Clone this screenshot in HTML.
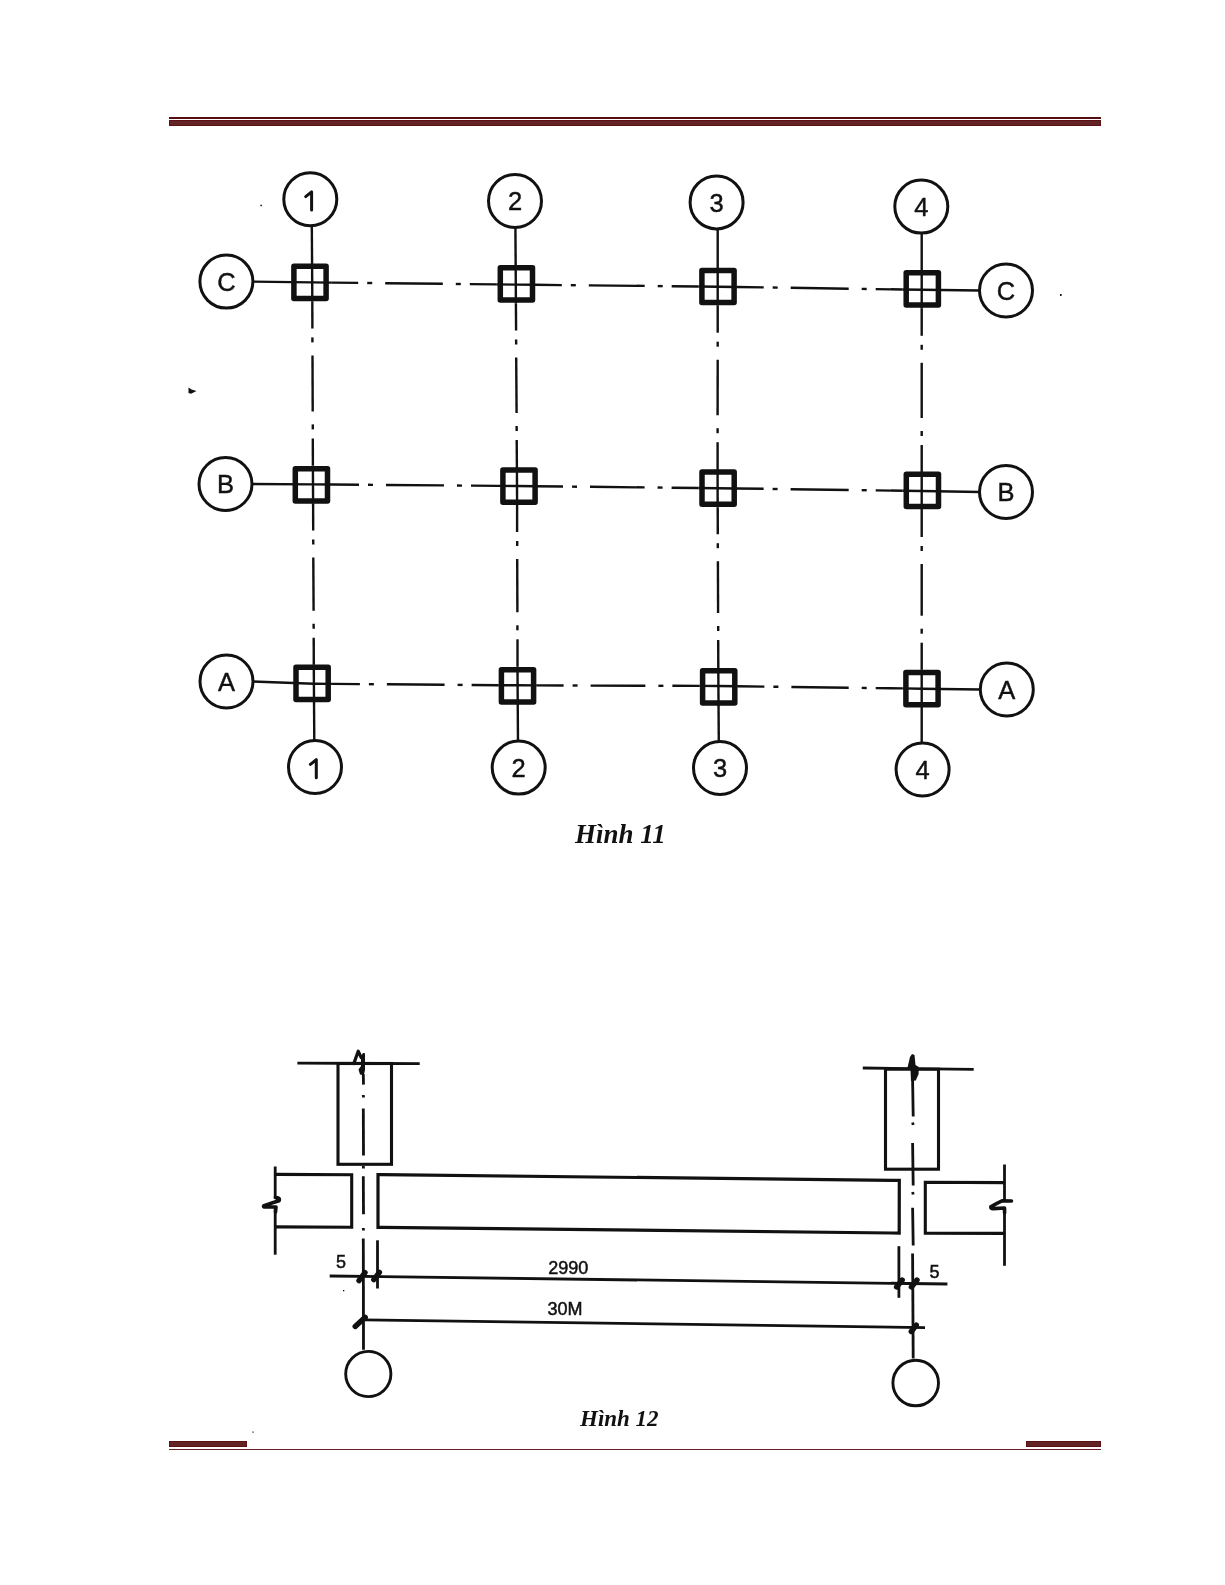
<!DOCTYPE html>
<html><head><meta charset="utf-8">
<style>
html,body{margin:0;padding:0;background:#fff;}
body{width:1225px;height:1585px;position:relative;overflow:hidden;}
svg{position:absolute;left:0;top:0;will-change:transform;}
.lb{font-family:"Liberation Sans",sans-serif;text-anchor:middle;fill:#111;stroke:#111;stroke-width:0.45px;}
.dm{font-family:"Liberation Sans",sans-serif;font-size:18px;fill:#111;stroke:#111;stroke-width:0.5px;}
.cap{font-family:"Liberation Serif",serif;font-weight:bold;font-style:italic;fill:#111;stroke:none;}
</style></head>
<body>
<svg width="1225" height="1585" viewBox="0 0 1225 1585">
<rect x="169" y="117" width="932" height="2" fill="#550d0f"/>
<rect x="169.5" y="120.5" width="931" height="5" fill="#632324" stroke="#5a1113" stroke-width="1"/>
<rect x="169.5" y="1441.5" width="77" height="5" fill="#632324" stroke="#5a1113" stroke-width="1"/>
<rect x="1026.5" y="1441.5" width="74" height="5" fill="#632324" stroke="#5a1113" stroke-width="1"/>
<rect x="169" y="1449" width="932" height="1" fill="#661f22"/>
<g stroke="#111" fill="#111">
<line x1="312.2" y1="282.4" x2="331.2" y2="282.6" stroke-width="2.4" stroke-linecap="butt"/>
<line x1="496.8" y1="284.4" x2="515.8" y2="284.6" stroke-width="2.4" stroke-linecap="butt"/>
<line x1="331.2" y1="282.6" x2="358.2" y2="282.9" stroke-width="2.4" stroke-linecap="butt"/>
<line x1="367.2" y1="283.0" x2="372.2" y2="283.0" stroke-width="2.4" stroke-linecap="butt"/>
<line x1="385.2" y1="283.2" x2="442.8" y2="283.8" stroke-width="2.4" stroke-linecap="butt"/>
<line x1="455.8" y1="284.0" x2="460.8" y2="284.0" stroke-width="2.4" stroke-linecap="butt"/>
<line x1="469.8" y1="284.1" x2="496.8" y2="284.4" stroke-width="2.4" stroke-linecap="butt"/>
<line x1="515.8" y1="284.6" x2="534.8" y2="284.8" stroke-width="2.4" stroke-linecap="butt"/>
<line x1="698.7" y1="286.5" x2="717.7" y2="286.7" stroke-width="2.4" stroke-linecap="butt"/>
<line x1="534.8" y1="284.8" x2="561.8" y2="285.1" stroke-width="2.4" stroke-linecap="butt"/>
<line x1="570.8" y1="285.2" x2="575.8" y2="285.2" stroke-width="2.4" stroke-linecap="butt"/>
<line x1="588.8" y1="285.4" x2="644.7" y2="285.9" stroke-width="2.4" stroke-linecap="butt"/>
<line x1="657.7" y1="286.1" x2="662.7" y2="286.1" stroke-width="2.4" stroke-linecap="butt"/>
<line x1="671.7" y1="286.2" x2="698.7" y2="286.5" stroke-width="2.4" stroke-linecap="butt"/>
<line x1="717.7" y1="286.7" x2="736.7" y2="287.0" stroke-width="2.4" stroke-linecap="butt"/>
<line x1="902.7" y1="289.5" x2="921.7" y2="289.8" stroke-width="2.4" stroke-linecap="butt"/>
<line x1="736.7" y1="287.0" x2="763.7" y2="287.4" stroke-width="2.4" stroke-linecap="butt"/>
<line x1="772.7" y1="287.5" x2="777.7" y2="287.6" stroke-width="2.4" stroke-linecap="butt"/>
<line x1="790.7" y1="287.8" x2="848.7" y2="288.7" stroke-width="2.4" stroke-linecap="butt"/>
<line x1="861.7" y1="288.9" x2="866.7" y2="289.0" stroke-width="2.4" stroke-linecap="butt"/>
<line x1="875.7" y1="289.1" x2="902.7" y2="289.5" stroke-width="2.4" stroke-linecap="butt"/>
<line x1="252.4" y1="281.6" x2="312.2" y2="282.4" stroke-width="2.4" stroke-linecap="butt"/>
<line x1="921.7" y1="289.8" x2="980.0" y2="290.5" stroke-width="2.4" stroke-linecap="butt"/>
<line x1="313.0" y1="484.4" x2="332.0" y2="484.5" stroke-width="2.4" stroke-linecap="butt"/>
<line x1="498.0" y1="485.9" x2="517.0" y2="486.0" stroke-width="2.4" stroke-linecap="butt"/>
<line x1="332.0" y1="484.5" x2="359.0" y2="484.8" stroke-width="2.4" stroke-linecap="butt"/>
<line x1="368.0" y1="484.8" x2="373.0" y2="484.9" stroke-width="2.4" stroke-linecap="butt"/>
<line x1="386.0" y1="485.0" x2="444.0" y2="485.4" stroke-width="2.4" stroke-linecap="butt"/>
<line x1="457.0" y1="485.5" x2="462.0" y2="485.6" stroke-width="2.4" stroke-linecap="butt"/>
<line x1="471.0" y1="485.6" x2="498.0" y2="485.9" stroke-width="2.4" stroke-linecap="butt"/>
<line x1="517.0" y1="486.0" x2="536.0" y2="486.2" stroke-width="2.4" stroke-linecap="butt"/>
<line x1="698.6" y1="488.0" x2="717.6" y2="488.2" stroke-width="2.4" stroke-linecap="butt"/>
<line x1="536.0" y1="486.2" x2="563.0" y2="486.5" stroke-width="2.4" stroke-linecap="butt"/>
<line x1="572.0" y1="486.6" x2="577.0" y2="486.7" stroke-width="2.4" stroke-linecap="butt"/>
<line x1="590.0" y1="486.8" x2="644.6" y2="487.4" stroke-width="2.4" stroke-linecap="butt"/>
<line x1="657.6" y1="487.5" x2="662.6" y2="487.6" stroke-width="2.4" stroke-linecap="butt"/>
<line x1="671.6" y1="487.7" x2="698.6" y2="488.0" stroke-width="2.4" stroke-linecap="butt"/>
<line x1="717.6" y1="488.2" x2="736.6" y2="488.5" stroke-width="2.4" stroke-linecap="butt"/>
<line x1="902.7" y1="490.7" x2="921.7" y2="491.0" stroke-width="2.4" stroke-linecap="butt"/>
<line x1="736.6" y1="488.5" x2="763.6" y2="488.8" stroke-width="2.4" stroke-linecap="butt"/>
<line x1="772.6" y1="489.0" x2="777.6" y2="489.0" stroke-width="2.4" stroke-linecap="butt"/>
<line x1="790.6" y1="489.2" x2="848.7" y2="490.0" stroke-width="2.4" stroke-linecap="butt"/>
<line x1="861.7" y1="490.2" x2="866.7" y2="490.2" stroke-width="2.4" stroke-linecap="butt"/>
<line x1="875.7" y1="490.4" x2="902.7" y2="490.7" stroke-width="2.4" stroke-linecap="butt"/>
<line x1="251.5" y1="484.0" x2="313.0" y2="484.4" stroke-width="2.4" stroke-linecap="butt"/>
<line x1="921.7" y1="491.0" x2="980.0" y2="492.0" stroke-width="2.4" stroke-linecap="butt"/>
<line x1="313.9" y1="683.8" x2="332.9" y2="683.9" stroke-width="2.4" stroke-linecap="butt"/>
<line x1="498.6" y1="685.2" x2="517.6" y2="685.3" stroke-width="2.4" stroke-linecap="butt"/>
<line x1="332.9" y1="683.9" x2="359.9" y2="684.1" stroke-width="2.4" stroke-linecap="butt"/>
<line x1="368.9" y1="684.2" x2="373.9" y2="684.2" stroke-width="2.4" stroke-linecap="butt"/>
<line x1="386.9" y1="684.3" x2="444.6" y2="684.8" stroke-width="2.4" stroke-linecap="butt"/>
<line x1="457.6" y1="684.9" x2="462.6" y2="684.9" stroke-width="2.4" stroke-linecap="butt"/>
<line x1="471.6" y1="685.0" x2="498.6" y2="685.2" stroke-width="2.4" stroke-linecap="butt"/>
<line x1="517.6" y1="685.3" x2="536.6" y2="685.4" stroke-width="2.4" stroke-linecap="butt"/>
<line x1="699.4" y1="685.9" x2="718.4" y2="686.0" stroke-width="2.4" stroke-linecap="butt"/>
<line x1="536.6" y1="685.4" x2="563.6" y2="685.5" stroke-width="2.4" stroke-linecap="butt"/>
<line x1="572.6" y1="685.5" x2="577.6" y2="685.5" stroke-width="2.4" stroke-linecap="butt"/>
<line x1="590.6" y1="685.6" x2="645.4" y2="685.7" stroke-width="2.4" stroke-linecap="butt"/>
<line x1="658.4" y1="685.8" x2="663.4" y2="685.8" stroke-width="2.4" stroke-linecap="butt"/>
<line x1="672.4" y1="685.8" x2="699.4" y2="685.9" stroke-width="2.4" stroke-linecap="butt"/>
<line x1="718.4" y1="686.0" x2="737.4" y2="686.3" stroke-width="2.4" stroke-linecap="butt"/>
<line x1="902.7" y1="688.4" x2="921.7" y2="688.7" stroke-width="2.4" stroke-linecap="butt"/>
<line x1="737.4" y1="686.3" x2="764.4" y2="686.6" stroke-width="2.4" stroke-linecap="butt"/>
<line x1="773.4" y1="686.7" x2="778.4" y2="686.8" stroke-width="2.4" stroke-linecap="butt"/>
<line x1="791.4" y1="687.0" x2="848.7" y2="687.7" stroke-width="2.4" stroke-linecap="butt"/>
<line x1="861.7" y1="687.9" x2="866.7" y2="688.0" stroke-width="2.4" stroke-linecap="butt"/>
<line x1="875.7" y1="688.1" x2="902.7" y2="688.4" stroke-width="2.4" stroke-linecap="butt"/>
<line x1="252.5" y1="681.5" x2="313.9" y2="683.8" stroke-width="2.4" stroke-linecap="butt"/>
<line x1="921.7" y1="688.7" x2="980.8" y2="689.5" stroke-width="2.4" stroke-linecap="butt"/>
<line x1="312.2" y1="282.4" x2="312.3" y2="301.4" stroke-width="2.4" stroke-linecap="butt"/>
<line x1="312.9" y1="465.4" x2="313.0" y2="484.4" stroke-width="2.4" stroke-linecap="butt"/>
<line x1="312.3" y1="301.4" x2="312.4" y2="328.4" stroke-width="2.4" stroke-linecap="butt"/>
<line x1="312.4" y1="337.4" x2="312.4" y2="342.4" stroke-width="2.4" stroke-linecap="butt"/>
<line x1="312.5" y1="355.4" x2="312.7" y2="411.4" stroke-width="2.4" stroke-linecap="butt"/>
<line x1="312.8" y1="424.4" x2="312.8" y2="429.4" stroke-width="2.4" stroke-linecap="butt"/>
<line x1="312.8" y1="438.4" x2="312.9" y2="465.4" stroke-width="2.4" stroke-linecap="butt"/>
<line x1="313.0" y1="484.4" x2="313.1" y2="503.4" stroke-width="2.4" stroke-linecap="butt"/>
<line x1="313.8" y1="664.8" x2="313.9" y2="683.8" stroke-width="2.4" stroke-linecap="butt"/>
<line x1="313.1" y1="503.4" x2="313.2" y2="530.4" stroke-width="2.4" stroke-linecap="butt"/>
<line x1="313.2" y1="539.4" x2="313.3" y2="544.4" stroke-width="2.4" stroke-linecap="butt"/>
<line x1="313.3" y1="557.4" x2="313.6" y2="610.8" stroke-width="2.4" stroke-linecap="butt"/>
<line x1="313.6" y1="623.8" x2="313.7" y2="628.8" stroke-width="2.4" stroke-linecap="butt"/>
<line x1="313.7" y1="637.8" x2="313.8" y2="664.8" stroke-width="2.4" stroke-linecap="butt"/>
<line x1="311.8" y1="224.2" x2="312.2" y2="282.4" stroke-width="2.4" stroke-linecap="butt"/>
<line x1="313.9" y1="683.8" x2="314.3" y2="742.0" stroke-width="2.4" stroke-linecap="butt"/>
<line x1="515.8" y1="284.6" x2="515.9" y2="303.6" stroke-width="2.4" stroke-linecap="butt"/>
<line x1="516.9" y1="467.0" x2="517.0" y2="486.0" stroke-width="2.4" stroke-linecap="butt"/>
<line x1="515.9" y1="303.6" x2="516.1" y2="330.6" stroke-width="2.4" stroke-linecap="butt"/>
<line x1="516.1" y1="339.6" x2="516.2" y2="344.6" stroke-width="2.4" stroke-linecap="butt"/>
<line x1="516.2" y1="357.6" x2="516.6" y2="413.0" stroke-width="2.4" stroke-linecap="butt"/>
<line x1="516.6" y1="426.0" x2="516.7" y2="431.0" stroke-width="2.4" stroke-linecap="butt"/>
<line x1="516.7" y1="440.0" x2="516.9" y2="467.0" stroke-width="2.4" stroke-linecap="butt"/>
<line x1="517.0" y1="486.0" x2="517.1" y2="505.0" stroke-width="2.4" stroke-linecap="butt"/>
<line x1="517.5" y1="666.3" x2="517.6" y2="685.3" stroke-width="2.4" stroke-linecap="butt"/>
<line x1="517.1" y1="505.0" x2="517.1" y2="532.0" stroke-width="2.4" stroke-linecap="butt"/>
<line x1="517.2" y1="541.0" x2="517.2" y2="546.0" stroke-width="2.4" stroke-linecap="butt"/>
<line x1="517.2" y1="559.0" x2="517.4" y2="612.3" stroke-width="2.4" stroke-linecap="butt"/>
<line x1="517.4" y1="625.3" x2="517.4" y2="630.3" stroke-width="2.4" stroke-linecap="butt"/>
<line x1="517.5" y1="639.3" x2="517.5" y2="666.3" stroke-width="2.4" stroke-linecap="butt"/>
<line x1="515.4" y1="226.0" x2="515.8" y2="284.6" stroke-width="2.4" stroke-linecap="butt"/>
<line x1="517.6" y1="685.3" x2="518.0" y2="742.6" stroke-width="2.4" stroke-linecap="butt"/>
<line x1="717.7" y1="286.7" x2="717.7" y2="305.7" stroke-width="2.4" stroke-linecap="butt"/>
<line x1="717.6" y1="469.2" x2="717.6" y2="488.2" stroke-width="2.4" stroke-linecap="butt"/>
<line x1="717.7" y1="305.7" x2="717.7" y2="332.7" stroke-width="2.4" stroke-linecap="butt"/>
<line x1="717.7" y1="341.7" x2="717.7" y2="346.7" stroke-width="2.4" stroke-linecap="butt"/>
<line x1="717.7" y1="359.7" x2="717.6" y2="415.2" stroke-width="2.4" stroke-linecap="butt"/>
<line x1="717.6" y1="428.2" x2="717.6" y2="433.2" stroke-width="2.4" stroke-linecap="butt"/>
<line x1="717.6" y1="442.2" x2="717.6" y2="469.2" stroke-width="2.4" stroke-linecap="butt"/>
<line x1="717.6" y1="488.2" x2="717.7" y2="507.2" stroke-width="2.4" stroke-linecap="butt"/>
<line x1="718.3" y1="667.0" x2="718.4" y2="686.0" stroke-width="2.4" stroke-linecap="butt"/>
<line x1="717.7" y1="507.2" x2="717.8" y2="534.2" stroke-width="2.4" stroke-linecap="butt"/>
<line x1="717.8" y1="543.2" x2="717.8" y2="548.2" stroke-width="2.4" stroke-linecap="butt"/>
<line x1="717.9" y1="561.2" x2="718.1" y2="613.0" stroke-width="2.4" stroke-linecap="butt"/>
<line x1="718.2" y1="626.0" x2="718.2" y2="631.0" stroke-width="2.4" stroke-linecap="butt"/>
<line x1="718.2" y1="640.0" x2="718.3" y2="667.0" stroke-width="2.4" stroke-linecap="butt"/>
<line x1="717.7" y1="227.4" x2="717.7" y2="286.7" stroke-width="2.4" stroke-linecap="butt"/>
<line x1="718.4" y1="686.0" x2="718.8" y2="743.0" stroke-width="2.4" stroke-linecap="butt"/>
<line x1="921.7" y1="289.8" x2="921.7" y2="308.8" stroke-width="2.4" stroke-linecap="butt"/>
<line x1="921.7" y1="472.0" x2="921.7" y2="491.0" stroke-width="2.4" stroke-linecap="butt"/>
<line x1="921.7" y1="308.8" x2="921.7" y2="335.8" stroke-width="2.4" stroke-linecap="butt"/>
<line x1="921.7" y1="344.8" x2="921.7" y2="349.8" stroke-width="2.4" stroke-linecap="butt"/>
<line x1="921.7" y1="362.8" x2="921.7" y2="418.0" stroke-width="2.4" stroke-linecap="butt"/>
<line x1="921.7" y1="431.0" x2="921.7" y2="436.0" stroke-width="2.4" stroke-linecap="butt"/>
<line x1="921.7" y1="445.0" x2="921.7" y2="472.0" stroke-width="2.4" stroke-linecap="butt"/>
<line x1="921.7" y1="491.0" x2="921.7" y2="510.0" stroke-width="2.4" stroke-linecap="butt"/>
<line x1="921.7" y1="669.7" x2="921.7" y2="688.7" stroke-width="2.4" stroke-linecap="butt"/>
<line x1="921.7" y1="510.0" x2="921.7" y2="537.0" stroke-width="2.4" stroke-linecap="butt"/>
<line x1="921.7" y1="546.0" x2="921.7" y2="551.0" stroke-width="2.4" stroke-linecap="butt"/>
<line x1="921.7" y1="564.0" x2="921.7" y2="615.7" stroke-width="2.4" stroke-linecap="butt"/>
<line x1="921.7" y1="628.7" x2="921.7" y2="633.7" stroke-width="2.4" stroke-linecap="butt"/>
<line x1="921.7" y1="642.7" x2="921.7" y2="669.7" stroke-width="2.4" stroke-linecap="butt"/>
<line x1="921.7" y1="231.6" x2="921.7" y2="289.8" stroke-width="2.4" stroke-linecap="butt"/>
<line x1="921.7" y1="688.7" x2="921.7" y2="744.5" stroke-width="2.4" stroke-linecap="butt"/>
<rect x="293.9" y="266.2" width="32.2" height="32.2" fill="none" stroke-width="5.5" stroke-linejoin="round"/>
<rect x="500.3" y="267.7" width="32.2" height="32.2" fill="none" stroke-width="5.5" stroke-linejoin="round"/>
<rect x="701.9" y="270.4" width="32.2" height="32.2" fill="none" stroke-width="5.5" stroke-linejoin="round"/>
<rect x="906.2" y="272.7" width="32.2" height="32.2" fill="none" stroke-width="5.5" stroke-linejoin="round"/>
<rect x="295.3" y="468.8" width="32.2" height="32.2" fill="none" stroke-width="5.5" stroke-linejoin="round"/>
<rect x="502.9" y="470.1" width="32.2" height="32.2" fill="none" stroke-width="5.5" stroke-linejoin="round"/>
<rect x="702.0" y="472.0" width="32.2" height="32.2" fill="none" stroke-width="5.5" stroke-linejoin="round"/>
<rect x="906.3" y="474.2" width="32.2" height="32.2" fill="none" stroke-width="5.5" stroke-linejoin="round"/>
<rect x="296.0" y="667.2" width="32.2" height="32.2" fill="none" stroke-width="5.5" stroke-linejoin="round"/>
<rect x="501.4" y="669.7" width="32.2" height="32.2" fill="none" stroke-width="5.5" stroke-linejoin="round"/>
<rect x="702.6" y="670.8" width="32.2" height="32.2" fill="none" stroke-width="5.5" stroke-linejoin="round"/>
<rect x="905.9" y="672.6" width="32.2" height="32.2" fill="none" stroke-width="5.5" stroke-linejoin="round"/>
<circle cx="310.3" cy="199.2" r="26.5" fill="#fff" stroke-width="3.0"/>
<path d="M305.7,196.6 L311.6,191.9 L311.6,209.9" fill="none" stroke-width="3.0" stroke-linejoin="round" stroke-linecap="round"/>
<circle cx="515.0" cy="201.0" r="26.5" fill="#fff" stroke-width="3.0"/>
<text x="515.0" y="210.1" class="lb" style="font-size:25.5px">2</text>
<circle cx="716.6" cy="202.4" r="26.5" fill="#fff" stroke-width="3.0"/>
<text x="716.6" y="211.5" class="lb" style="font-size:25.5px">3</text>
<circle cx="921.3" cy="206.6" r="26.5" fill="#fff" stroke-width="3.0"/>
<text x="921.3" y="215.7" class="lb" style="font-size:25.5px">4</text>
<circle cx="315.0" cy="767.0" r="26.5" fill="#fff" stroke-width="3.0"/>
<path d="M310.4,764.4 L316.3,759.7 L316.3,777.7" fill="none" stroke-width="3.0" stroke-linejoin="round" stroke-linecap="round"/>
<circle cx="518.7" cy="767.6" r="26.5" fill="#fff" stroke-width="3.0"/>
<text x="518.7" y="776.7" class="lb" style="font-size:25.5px">2</text>
<circle cx="720.0" cy="768.0" r="26.5" fill="#fff" stroke-width="3.0"/>
<text x="720.0" y="777.1" class="lb" style="font-size:25.5px">3</text>
<circle cx="922.6" cy="769.5" r="26.5" fill="#fff" stroke-width="3.0"/>
<text x="922.6" y="778.6" class="lb" style="font-size:25.5px">4</text>
<circle cx="226.4" cy="281.6" r="26.5" fill="#fff" stroke-width="3.0"/>
<text x="226.4" y="290.9" class="lb" style="font-size:25.5px">C</text>
<circle cx="1006.0" cy="290.5" r="26.5" fill="#fff" stroke-width="3.0"/>
<text x="1006.0" y="299.8" class="lb" style="font-size:25.5px">C</text>
<circle cx="225.5" cy="484.0" r="26.5" fill="#fff" stroke-width="3.0"/>
<text x="225.5" y="493.3" class="lb" style="font-size:25.5px">B</text>
<circle cx="1006.0" cy="492.0" r="26.5" fill="#fff" stroke-width="3.0"/>
<text x="1006.0" y="501.3" class="lb" style="font-size:25.5px">B</text>
<circle cx="226.5" cy="681.5" r="26.5" fill="#fff" stroke-width="3.0"/>
<text x="226.5" y="690.8" class="lb" style="font-size:25.5px">A</text>
<circle cx="1006.8" cy="689.5" r="26.5" fill="#fff" stroke-width="3.0"/>
<text x="1006.8" y="698.8" class="lb" style="font-size:25.5px">A</text>
<rect x="252.3" y="1431.4" width="1.5" height="1.5" fill="#666" stroke="none"/><rect x="343" y="1290" width="1.3" height="1.3" stroke="none"/><rect x="1060" y="294" width="1.6" height="2" stroke="none"/><rect x="260.4" y="204.7" width="1.5" height="1.5" stroke="none"/>
<path d="M188.5,387.5 L191.5,389.5 L196.5,391 L191,393.8 L188.5,393 Z" stroke="none"/>
</g>
<text x="575" y="843" class="cap" style="font-size:27px">Hình 11</text>
<g stroke="#111" fill="#111">
<line x1="297.4" y1="1063.2" x2="419.7" y2="1063.6" stroke-width="2.8" stroke-linecap="butt"/>
<path d="M353.8,1063.6 L358.2,1051.2 L361.2,1057.5" fill="none" stroke-width="3.2" stroke-linejoin="round" stroke-linecap="round"/>
<path d="M361,1057 L362.8,1053 L365,1053.3 L365,1070 L363.8,1075.2 L360,1074.5 L358.5,1069.5 L361,1066 Z" stroke="none"/>
<rect x="338" y="1063.5" width="53.5" height="100.8" fill="none" stroke-width="3.0999999999999996"/>
<line x1="363.3" y1="1074.0" x2="363.5" y2="1084.6" stroke-width="2.8" stroke-linecap="butt"/>
<line x1="363.3" y1="1095.0" x2="363.5" y2="1097.5" stroke-width="2.8" stroke-linecap="butt"/>
<line x1="363.3" y1="1108.6" x2="363.5" y2="1155.4" stroke-width="2.8" stroke-linecap="butt"/>
<line x1="363.3" y1="1166.0" x2="363.5" y2="1168.5" stroke-width="2.8" stroke-linecap="butt"/>
<line x1="363.3" y1="1176.3" x2="363.5" y2="1214.2" stroke-width="2.8" stroke-linecap="butt"/>
<line x1="363.3" y1="1228.0" x2="363.5" y2="1230.5" stroke-width="2.8" stroke-linecap="butt"/>
<line x1="363.3" y1="1238.4" x2="363.5" y2="1349.7" stroke-width="2.8" stroke-linecap="butt"/>
<path d="M275.2,1174.4 L351.7,1174.8 L351.7,1227.2 L275.2,1226.9" fill="none" stroke-width="3.0999999999999996"/>
<line x1="275.2" y1="1166.5" x2="275.2" y2="1197.0" stroke-width="2.8" stroke-linecap="butt"/>
<line x1="275.2" y1="1206.0" x2="275.2" y2="1254.7" stroke-width="2.8" stroke-linecap="butt"/>
<path d="M275.3,1197.5 Q280.5,1197.5 279,1200.8 Q272,1203 264,1205.6 Q262.5,1207.2 266,1207 L276,1207 L275.5,1212" fill="none" stroke-width="3.6" stroke-linejoin="round" stroke-linecap="round"/>
<circle cx="278.3" cy="1199.6" r="2.6" stroke="none"/>
<path d="M899.3,1180.4 L378,1174.6 L378,1227.3 L899.2,1233.1 Z" fill="none" stroke-width="3.1999999999999997"/>
<line x1="377.5" y1="1240.3" x2="377.5" y2="1288.5" stroke-width="2.8" stroke-linecap="butt"/>
<line x1="898.9" y1="1246.2" x2="898.9" y2="1297.8" stroke-width="2.8" stroke-linecap="butt"/>
<line x1="329.7" y1="1276.0" x2="947.4" y2="1284.0" stroke-width="2.8" stroke-linecap="butt"/>
<line x1="363.0" y1="1319.8" x2="925.0" y2="1327.6" stroke-width="2.8" stroke-linecap="butt"/>
<line x1="359.0" y1="1280.6" x2="365.0" y2="1272.6" stroke-width="5.4" stroke-linecap="round"/>
<line x1="373.8" y1="1279.6" x2="379.4" y2="1272.4" stroke-width="5.4" stroke-linecap="round"/>
<line x1="896.6" y1="1287.0" x2="902.2" y2="1280.0" stroke-width="5.4" stroke-linecap="round"/>
<line x1="911.4" y1="1287.0" x2="917.0" y2="1280.0" stroke-width="5.4" stroke-linecap="round"/>
<line x1="355.2" y1="1326.5" x2="365.2" y2="1317.3" stroke-width="5.4" stroke-linecap="round"/>
<line x1="911.3" y1="1331.5" x2="916.3" y2="1325.1" stroke-width="5.4" stroke-linecap="round"/>
<text x="336" y="1268" class="dm">5</text>
<text x="929.5" y="1277.7" class="dm">5</text>
<text x="548.3" y="1273.9" class="dm">2990</text>
<text x="547.5" y="1314.8" class="dm">30M</text>
<circle cx="368.3" cy="1374.0" r="22.6" fill="#fff" stroke-width="2.9"/>
<line x1="862.8" y1="1068.0" x2="973.7" y2="1069.4" stroke-width="2.8" stroke-linecap="butt"/>
<path d="M907.3,1068.5 L910,1057 L912,1054 L914.5,1055 L915.5,1065 L918.8,1067 L918.6,1074 L915.8,1080.5 L911,1081 L910.5,1070 Z" stroke="none"/>
<rect x="885.5" y="1069.2" width="53" height="100" fill="none" stroke-width="3.0999999999999996"/>
<line x1="912.6" y1="1080.0" x2="913.2" y2="1116.4" stroke-width="2.8" stroke-linecap="butt"/>
<line x1="912.6" y1="1122.5" x2="913.2" y2="1125.0" stroke-width="2.8" stroke-linecap="butt"/>
<line x1="912.6" y1="1142.9" x2="913.2" y2="1185.5" stroke-width="2.8" stroke-linecap="butt"/>
<line x1="912.6" y1="1192.0" x2="913.2" y2="1194.5" stroke-width="2.8" stroke-linecap="butt"/>
<line x1="912.6" y1="1207.7" x2="913.2" y2="1245.6" stroke-width="2.8" stroke-linecap="butt"/>
<line x1="912.6" y1="1253.4" x2="913.2" y2="1358.6" stroke-width="2.8" stroke-linecap="butt"/>
<path d="M1004.4,1182.6 L925.3,1182.2 L925.3,1233.1 L1004.4,1233.4" fill="none" stroke-width="3.0999999999999996"/>
<line x1="1004.5" y1="1164.5" x2="1004.5" y2="1200.0" stroke-width="2.8" stroke-linecap="butt"/>
<line x1="1004.5" y1="1208.0" x2="1004.5" y2="1265.8" stroke-width="2.8" stroke-linecap="butt"/>
<path d="M1011.5,1201 L1002,1200.8 Q996,1203.5 990.8,1206.8 Q990.5,1209 993.5,1208.6 L1004.5,1208 L1004.6,1213" fill="none" stroke-width="3.6" stroke-linejoin="round" stroke-linecap="round"/>
<circle cx="915.7" cy="1383.0" r="22.8" fill="#fff" stroke-width="2.9"/>
</g>
<text x="580" y="1426" class="cap" style="font-size:23px">Hình 12</text>
</svg>
</body></html>
